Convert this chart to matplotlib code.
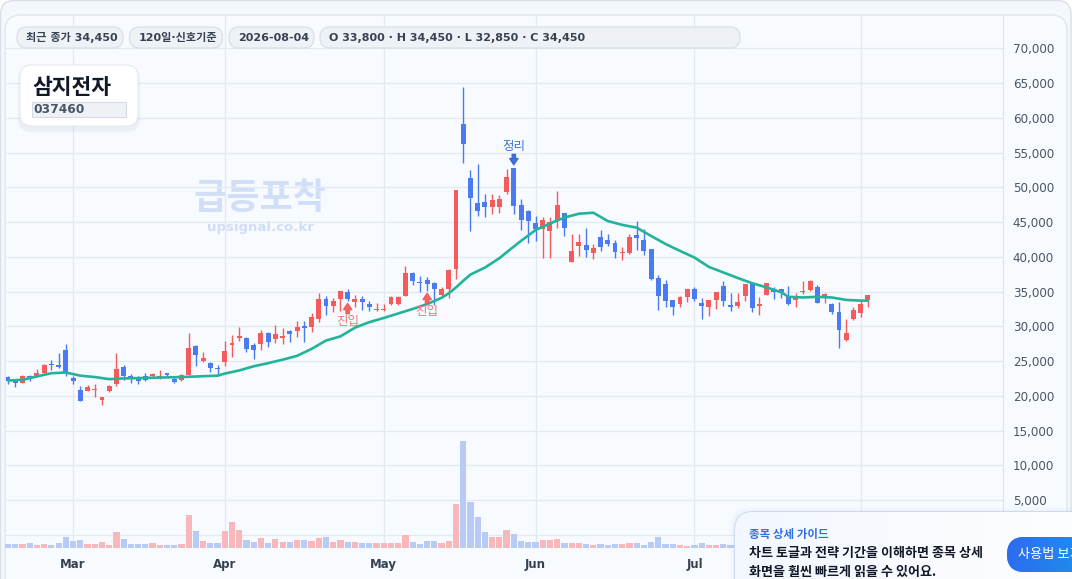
import matplotlib
import numpy as np
matplotlib.use("Agg")
import matplotlib.pyplot as plt
from matplotlib.patches import FancyBboxPatch
from matplotlib.ticker import FuncFormatter

plt.rcParams["font.family"] = ["DejaVu Sans", "Noto Sans CJK KR"]
KR = ["Noto Sans CJK KR", "DejaVu Sans"]

# ---- data ----
stock_name = "삼지전자"
stock_code = "037460"
last_date = "2026-08-04"

opens = [22700, 22100, 21850, 22900, 22800, 23250, 24550, 24500, 26650, 22500,
         20850, 20700, 20850, 19450, 20700, 21650, 24100, 22800, 22500, 22900,
         22800, 22700, 23300, 22450, 22300, 23050, 27200, 24950, 24700, 24000,
         24850, 27250, 28250, 28350, 27250, 27400, 29100, 28150, 28350, 29300,
         29300, 30100, 29850, 31000, 33950, 32950, 33900, 34950, 33500, 33950,
         33200, 32300, 32300, 33200, 33200, 34400, 37700, 36400, 36650, 36200,
         34500, 35350, 38300, 59150, 51350, 47750, 47950, 47100, 47200, 49400,
         52850, 47450, 46600, 44900, 43950, 43700, 45200, 46300, 39300, 41500,
         41750, 40500, 42900, 42450, 42050, 40550, 40600, 43200, 42450, 41150,
         36950, 36100, 33850, 33150, 34150, 35400, 33350, 32750, 33800, 35850,
         33100, 32950, 34300, 36100, 32900, 34450, 35400, 35400, 34350, 33750,
         34950, 35250, 35650, 34100, 33250, 32100, 28100, 31000, 31850, 33800]
highs = [22800, 22300, 22950, 22950, 23850, 24600, 25100, 26200, 27400, 22800,
         21350, 21500, 21650, 19900, 21550, 26150, 24500, 23150, 22800, 23350,
         23350, 23650, 23350, 22700, 23150, 29100, 27250, 26250, 24900, 24500,
         27850, 28800, 29950, 28400, 27650, 29400, 29250, 30250, 29750, 29400,
         30700, 30700, 31900, 34850, 34350, 34050, 35150, 35400, 34550, 34400,
         33700, 33350, 33200, 34300, 34400, 38700, 37850, 37300, 37150, 36400,
         35600, 38300, 49600, 64450, 52450, 53400, 49000, 49000, 48950, 52700,
         52850, 48300, 46700, 45850, 45750, 45750, 49500, 46350, 43250, 43250,
         44200, 41850, 43900, 43350, 42450, 41450, 43250, 45200, 44050, 41150,
         37450, 36700, 33850, 34350, 35400, 35650, 34050, 33850, 35000, 36550,
         34850, 34850, 36100, 36300, 34150, 36300, 35600, 35400, 35850, 34750,
         36550, 36650, 36000, 34750, 33400, 33550, 31100, 32850, 33850, 34450]
lows = [21750, 21250, 21800, 22100, 22700, 23150, 23750, 24050, 22900, 21750,
        19200, 20650, 19900, 18750, 20600, 21450, 22300, 21850, 21750, 22200,
        22700, 22400, 22900, 21850, 22100, 22950, 24350, 24900, 23450, 23050,
        24250, 25650, 27950, 26300, 25250, 26600, 27000, 27650, 27400, 27700,
        28450, 27700, 29150, 30600, 31600, 32050, 32250, 33700, 32750, 32350,
        32250, 32150, 32150, 33000, 33000, 34300, 35950, 34900, 35150, 33000,
        34350, 34100, 36800, 53550, 43750, 45900, 45800, 46200, 46300, 49100,
        46200, 43850, 42050, 42300, 39900, 39900, 44200, 43000, 39200, 40150,
        40000, 39750, 40800, 41600, 39900, 39600, 40400, 41000, 40300, 36700,
        32350, 32850, 31650, 32850, 33450, 33700, 31000, 31450, 32500, 32950,
        32150, 32600, 33700, 32000, 31600, 34450, 34000, 34050, 33100, 32750,
        34650, 35050, 33350, 33300, 31750, 26850, 27850, 30900, 31400, 32850]
closes = [22100, 21850, 22900, 22700, 23350, 24500, 24450, 24200, 23350, 22100,
          19250, 21250, 20900, 19800, 21350, 23800, 22850, 22550, 22200, 22300,
          23200, 22900, 22950, 22000, 23050, 26950, 25850, 25500, 24050, 23900,
          26500, 27550, 28550, 26800, 26600, 29100, 27700, 28950, 28650, 28900,
          29950, 29750, 31400, 33950, 32900, 33700, 35050, 33900, 33900, 33450,
          32750, 32500, 32500, 34150, 34150, 37700, 36550, 36300, 36050, 35300,
          35400, 38100, 49600, 56250, 48500, 46600, 47100, 48200, 48250, 51500,
          47350, 45300, 45100, 43950, 45300, 45000, 47450, 44200, 40850, 42150,
          41050, 41300, 41350, 41900, 40650, 40600, 42900, 42650, 40850, 36800,
          34400, 33700, 32850, 34250, 35300, 33950, 32900, 33850, 35000, 33600,
          32750, 33550, 36100, 32600, 33250, 36300, 34900, 34900, 33250, 34250,
          35000, 36550, 33400, 34650, 32000, 29450, 29100, 32400, 33250, 34450]
# volume, thousand shares
volumes = [400, 400, 400, 500, 300, 400, 300, 500, 1100, 700,
           800, 400, 400, 600, 300, 1600, 900, 400, 400, 400,
           500, 300, 300, 300, 400, 3300, 1700, 700, 500, 500,
           1700, 2600, 1800, 800, 600, 1000, 500, 900, 600, 600,
           800, 800, 700, 1000, 1100, 600, 800, 600, 600, 500,
           500, 500, 500, 500, 500, 1300, 600, 400, 700, 700,
           500, 700, 4400, 10600, 4600, 3100, 1600, 1100, 1100, 1800,
           1400, 700, 600, 600, 800, 800, 900, 500, 500, 500,
           400, 300, 400, 300, 400, 400, 500, 500, 300, 600,
           1100, 400, 400, 300, 200, 300, 500, 300, 300, 400,
           300, 400, 500, 400, 300, 400, 500, 300, 300, 400,
           400, 500, 600, 300, 400, 800, 1000, 600, 500, 400]

ma_index = [0, 2, 4, 6, 8, 10, 12, 14, 16, 20, 24, 29, 30, 32, 34, 36, 38, 40,
            42, 44, 46, 48, 50, 52, 54, 56, 58, 60, 61, 62, 63, 64, 66, 68, 69,
            71, 73, 75, 77, 79, 81, 83, 85, 87, 89, 91, 93, 95, 97, 99, 101, 103,
            105, 107, 108, 110, 112, 114, 116, 118, 119]
ma_values = [22200, 22300, 22800, 23250, 23350, 22900, 22700, 22400, 22500, 22600,
             22700, 22900, 23200, 23650, 24250, 24700, 25200, 25750, 26750, 27950,
             28550, 29800, 30600, 31200, 31850, 32500, 33200, 34100, 34750, 35600,
             36550, 37450, 38450, 39800, 40650, 42300, 43850, 44800, 45650, 46200,
             46350, 45150, 44600, 44200, 43000, 41850, 40850, 39900, 38550, 37750,
             36950, 36200, 35600, 34900, 34250, 34150, 34250, 34150, 33800, 33700,
             33700]

month_index = [9, 30, 52, 73, 95, 118]
month_labels = ["Mar", "Apr", "May", "Jun", "Jul", "Aug"]

signal_index = [47, 58, 70]
signal_labels = ["진입", "진입", "정리"]
signal_side = ["buy", "buy", "sell"]

# ---- colours ----
RED = "#f65b5b"
BLUE = "#4a7bf0"
RED_VOL = "#f8b8bb"
BLUE_VOL = "#b7cbf6"
MA_COLOR = "#22b39a"

W, H = 1072, 579
fig = plt.figure(figsize=(W / 100, H / 100), dpi=100)
fig.patch.set_facecolor("#ffffff")


def pixel_axes(z):
    a = fig.add_axes([0, 0, 1, 1], zorder=z)
    a.set_xlim(0, W)
    a.set_ylim(H, 0)
    a.axis("off")
    a.patch.set_visible(False)
    return a


def rounded(a, x, y, w, h, r, **kw):
    p = FancyBboxPatch((x, y), w, h, boxstyle=f"round,pad=0,rounding_size={r}", **kw)
    a.add_patch(p)
    return p


def gradient(a, patch, x0, x1, y0, y1, c0, c1):
    c0 = np.array(matplotlib.colors.to_rgb(c0))
    c1 = np.array(matplotlib.colors.to_rgb(c1))
    t = np.linspace(0, 1, 256)[None, :, None]
    img = c0 + (c1 - c0) * t
    im = a.imshow(img, extent=(x0, x1, y1, y0), aspect="auto", zorder=patch.get_zorder())
    im.set_clip_path(patch)
    a.set_xlim(0, W)
    a.set_ylim(H, 0)


# ---- background cards ----
bg = pixel_axes(0)
rounded(bg, 0.5, 0.5, W - 1.5, 640, 14, facecolor="#f4f7fb", edgecolor="#d9dfe8", lw=1)
rounded(bg, 5, 15, 1062, 640, 16, facecolor="#f7faff", edgecolor="#e1e6ee", lw=1)
bg.text(260, 198, "급등포착", family=KR, fontsize=26, fontweight="bold",
        color="#d0def7", ha="center", va="center")
bg.text(260, 228, "upsignal.co.kr", fontsize=9.5, fontweight="bold",
        color="#d0def7", ha="center", va="center")

# ---- main chart ----
ax = fig.add_axes([5 / W, 1 - 548 / H, 998 / W, 533 / H], zorder=1)
ax.patch.set_visible(False)

x = np.arange(len(closes))
o = np.array(opens)
hi = np.array(highs)
lo = np.array(lows)
c = np.array(closes)
up = c >= o
colors = np.where(up, RED, BLUE)
vol_colors = np.where(up, RED_VOL, BLUE_VOL)

vol_top = max(volumes) * 5.0
ax.bar(x, np.array(volumes) / vol_top, width=0.86, bottom=0, color=vol_colors,
       linewidth=0, transform=ax.get_xaxis_transform(), zorder=2)

ax.vlines(x, lo, hi, colors=colors, lw=1.0, zorder=3)
ax.bar(x, np.maximum(np.abs(c - o), 130), bottom=np.minimum(o, c), width=0.68,
       color=colors, linewidth=0, zorder=4)

ax.plot(ma_index, ma_values, color=MA_COLOR, lw=1.9, zorder=5,
        solid_capstyle="round", solid_joinstyle="round")

for i, label, side in zip(signal_index, signal_labels, signal_side):
    if side == "buy":
        anchor, off, txt_off = lows[i], -9.5, -15
        arrow_c, text_c = "#f25656", "#f07878"
    else:
        anchor, off, txt_off = highs[i], 9.5, 15
        arrow_c, text_c = "#2f63d8", "#3f73e0"
    ax.annotate("", xy=(i, anchor), xytext=(0, off), textcoords="offset points",
                arrowprops=dict(arrowstyle="simple,head_width=0.6,head_length=0.45,tail_width=0.24",
                                color=arrow_c, shrinkA=0, shrinkB=2, alpha=0.9),
                zorder=6)
    ax.annotate(label, xy=(i, anchor), xytext=(0, txt_off), textcoords="offset points",
                ha="center", va="center", fontsize=9, color=text_c, family=KR, zorder=6)

ax.set_xlim(-0.42, 137.7)
ax.set_ylim(-1900, 74800)
ax.set_yticks(range(0, 70001, 5000))
ax.yaxis.tick_right()
ax.yaxis.set_major_formatter(FuncFormatter(lambda v, p: f"{v:,.0f}"))
ax.set_xticks(month_index, month_labels)
ax.tick_params(axis="y", length=0, pad=7, labelsize=8.6, labelcolor="#4b5563")
ax.tick_params(axis="x", length=0, pad=7, labelsize=8.5, labelcolor="#374151")
for t in ax.get_xticklabels():
    t.set_fontweight("bold")
# the last month label and the zero label sit under the guide card
ax.get_xticklabels()[-1].set_visible(False)
ax.get_yticklabels()[0].set_visible(False)
ax.grid(True, color="#e4e8ef", lw=0.9)
ax.set_axisbelow(True)
for side in ["left", "top", "bottom"]:
    ax.spines[side].set_visible(False)
ax.spines["right"].set_color("#dfe4ec")

# ---- overlays ----
fg = pixel_axes(2)

pills = [
    (17, 106, f"최근 종가 {closes[-1]:,}"),
    (129.5, 93, f"{len(closes)}일·신호기준"),
    (229, 85, last_date),
    (320, 420, f"O {opens[-1]:,} · H {highs[-1]:,} · L {lows[-1]:,} · C {closes[-1]:,}"),
]
for px, pw, label in pills:
    rounded(fg, px, 27, pw, 21, 10, facecolor="#eef2f7", edgecolor="#d9dfe8", lw=0.9)
    fg.text(px + 9, 37.8, label, fontsize=8, fontweight="bold", color="#374151",
            ha="left", va="center")

# title box with soft shadow
for k, a in enumerate([0.05, 0.04, 0.03]):
    rounded(fg, 20 - k - 1, 66 - k + 2, 118 + 2 * k + 2, 61 + 2 * k + 2, 13 + k,
            facecolor="#94a3b8", edgecolor="none", alpha=a)
rounded(fg, 20, 65, 118, 61, 12, facecolor="#ffffff", edgecolor="#e5e9f0", lw=0.8)
fg.text(32, 87, stock_name, family=KR, fontsize=15.5, fontweight="bold",
        color="#111827", ha="left", va="center")
fg.add_patch(plt.Rectangle((32, 102), 94, 15, facecolor="#eef1f6", edgecolor="#d5dbe4", lw=0.8))
fg.text(33.5, 109.8, stock_code, fontsize=8.8, fontweight="bold", color="#4b5563",
        ha="left", va="center")

# guide card
for k, a in enumerate([0.05, 0.035, 0.02]):
    rounded(fg, 735 - 2 - 2 * k, 512 - 2 - 2 * k, 400, 120, 18 + 2 * k,
            facecolor="#9db4dc", edgecolor="none", alpha=a)
card = rounded(fg, 735, 512, 400, 120, 18, facecolor="#f7faff", edgecolor="#c6d6f2", lw=1.2)
gradient(fg, card, 735, 1135, 512, 632, "#f3f7ff", "#ffffff")
fg.text(749, 534, "종목 상세 가이드", family=KR, fontsize=8.3, fontweight="bold",
        color="#2f6fe6", ha="left", va="center")
fg.text(749, 552.5, "차트 토글과 전략 기간을 이해하면 종목 상세", family=KR, fontsize=9.4,
        fontweight="bold", color="#111827", ha="left", va="center")
fg.text(749, 572, "화면을 훨씬 빠르게 읽을 수 있어요.", family=KR, fontsize=9.4,
        fontweight="bold", color="#111827", ha="left", va="center")

button = rounded(fg, 1007, 537, 130, 35, 17.5, facecolor="#2f6ff0", edgecolor="none")
gradient(fg, button, 1007, 1137, 537, 572, "#2d6cf0", "#14a6e8")
fg.text(1018, 554.5, "사용법 보기", family=KR, fontsize=9.5, color="#ffffff",
        ha="left", va="center", zorder=5)

fig.savefig("out.png", dpi=100, facecolor=fig.get_facecolor())
